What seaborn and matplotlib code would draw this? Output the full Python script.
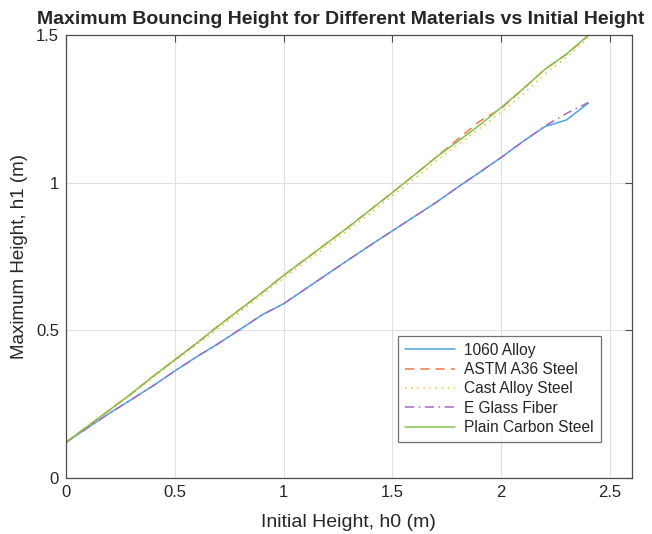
import numpy as np
import pandas as pd
import matplotlib
matplotlib.use("Agg")
import matplotlib.pyplot as plt
import seaborn as sns

# initial height h0 (m)
h0 = [0.0, 0.1, 0.2, 0.3, 0.4, 0.5, 0.6, 0.7, 0.8, 0.9, 1.0, 1.1, 1.2,
      1.3, 1.4, 1.5, 1.6, 1.7, 1.8, 1.9, 2.0, 2.1, 2.2, 2.3, 2.4]

# max bouncing height h1 (m) per material
alloy_1060 = [0.12, 0.17, 0.219, 0.265, 0.312, 0.362, 0.41, 0.455, 0.503, 0.552, 0.59,
              0.64, 0.69, 0.74, 0.789, 0.837, 0.885, 0.933, 0.985, 1.035, 1.086,
              1.14, 1.19, 1.213, 1.27]
astm_a36 = [0.12, 0.175, 0.23, 0.285, 0.344, 0.40, 0.456, 0.515, 0.571, 0.627, 0.686,
            0.741, 0.796, 0.851, 0.909, 0.967, 1.026, 1.086, 1.147, 1.208, 1.252,
            1.318, 1.384, 1.436, 1.498]
cast_alloy = [0.12, 0.174, 0.228, 0.282, 0.34, 0.396, 0.45, 0.507, 0.563, 0.618, 0.677,
              0.732, 0.786, 0.841, 0.898, 0.956, 1.014, 1.073, 1.128, 1.183, 1.24,
              1.3, 1.368, 1.425, 1.49]
e_glass = [0.12, 0.17, 0.219, 0.265, 0.312, 0.362, 0.41, 0.455, 0.503, 0.552, 0.59,
           0.64, 0.69, 0.74, 0.789, 0.837, 0.885, 0.933, 0.985, 1.035, 1.086,
           1.14, 1.192, 1.235, 1.272]
plain_carbon = [0.12, 0.175, 0.23, 0.285, 0.344, 0.40, 0.456, 0.515, 0.571, 0.627, 0.686,
                0.741, 0.796, 0.851, 0.909, 0.967, 1.026, 1.086, 1.14, 1.195, 1.255,
                1.318, 1.384, 1.436, 1.50]

materials = ["1060 Alloy", "ASTM A36 Steel", "Cast Alloy Steel", "E Glass Fiber", "Plain Carbon Steel"]
series = [alloy_1060, astm_a36, cast_alloy, e_glass, plain_carbon]
colors = ["#4DA3E0", "#EE7A45", "#F2BB44", "#A36CC0", "#86C04A"]
styles = ["-", (0, (6, 4)), (0, (1, 3)), (0, (6, 3, 1, 3)), "-"]

sns.set_style("white")
plt.rcParams['font.family'] = ['Liberation Sans', 'DejaVu Sans']

fig = plt.figure(figsize=(6.52, 5.34), dpi=100)
ax = fig.add_axes([0.101, 0.105, 0.868, 0.829])

for name, vals, c, ls in zip(materials, series, colors, styles):
    df = pd.DataFrame({"h0": h0, "h1": vals})
    sns.lineplot(data=df, x="h0", y="h1", ax=ax, color=c, linestyle=ls,
                 linewidth=1.1, label=name)

ax.set_xlim(0, 2.6)
ax.set_ylim(0, 1.5)
ax.set_xticks([0, 0.5, 1, 1.5, 2, 2.5])
ax.set_xticklabels(["0", "0.5", "1", "1.5", "2", "2.5"])
ax.set_yticks([0, 0.5, 1, 1.5])
ax.set_yticklabels(["0", "0.5", "1", "1.5"])
ax.grid(True, color="#e0e0e0", linewidth=0.8)
ax.tick_params(direction="in", length=5, width=0.8, colors="#4d4d4d",
               labelcolor="#262626", labelsize=12, top=True, right=True, pad=5)
for sp in ax.spines.values():
    sp.set_color("#4d4d4d")
    sp.set_linewidth(0.9)

ax.set_xlabel("Initial Height, h0 (m)", fontsize=14, color="#262626", labelpad=10)
ax.set_ylabel("Maximum Height, h1 (m)", fontsize=13.5, color="#262626", labelpad=6)
ax.set_title("Maximum Bouncing Height for Different Materials vs Initial Height",
             fontsize=14, fontweight="bold", pad=8, x=0.486)

leg = ax.legend(loc="lower right", bbox_to_anchor=(0.945, 0.081), fontsize=11.2,
                frameon=True, fancybox=False, edgecolor="#4d4d4d", borderaxespad=0,
                handlelength=3.2, borderpad=0.45, labelspacing=0.28, handletextpad=0.6)
leg.get_frame().set_linewidth(0.9)

fig.savefig("out.png", dpi=100)
